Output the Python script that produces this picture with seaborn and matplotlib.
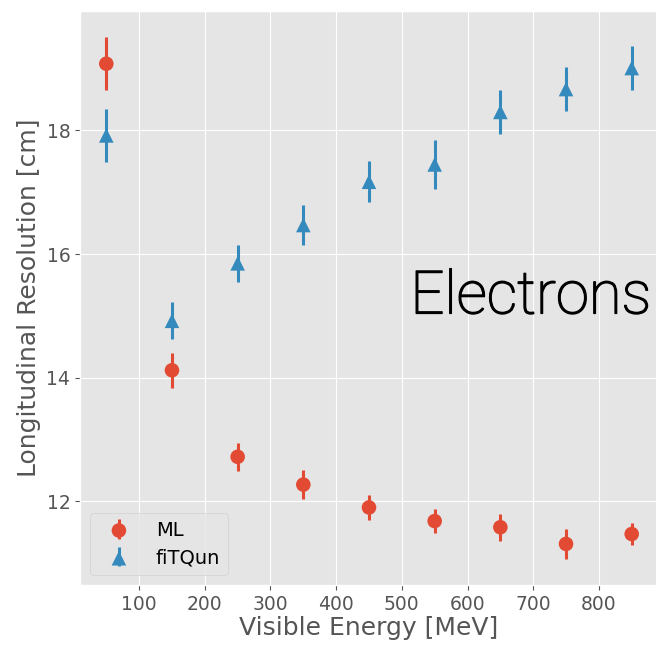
import numpy as np
import pandas as pd
import matplotlib
matplotlib.use('Agg')
import matplotlib.pyplot as plt
import matplotlib.patheffects as pe
import seaborn as sns
from matplotlib.legend_handler import HandlerTuple

energy = [50, 150, 250, 350, 450, 550, 650, 750, 850]

ml_res = [19.08, 14.12, 12.72, 12.27, 11.90, 11.68, 11.58, 11.31, 11.47]
ml_err = [0.43, 0.28, 0.23, 0.23, 0.20, 0.20, 0.22, 0.24, 0.18]

fq_res = [17.92, 14.92, 15.85, 16.47, 17.17, 17.45, 18.30, 18.67, 19.01]
fq_err = [0.43, 0.30, 0.30, 0.33, 0.33, 0.40, 0.35, 0.35, 0.35]

df = pd.DataFrame({
    'energy': energy * 2,
    'res': ml_res + fq_res,
    'err': ml_err + fq_err,
    'algo': ['ML'] * len(energy) + ['fiTQun'] * len(energy),
})

plt.style.use('ggplot')
plt.rcParams['xtick.labelsize'] = 13.5
plt.rcParams['ytick.labelsize'] = 13.5

colors = {'ML': '#E24A33', 'fiTQun': '#348ABD'}
markers = {'ML': 'o', 'fiTQun': '^'}

fig = plt.figure(figsize=(6.56, 6.52), dpi=100)
ax = fig.add_axes([0.122, 0.103, 0.881, 0.880])

handles = []
for algo in ['ML', 'fiTQun']:
    sub = df[df['algo'] == algo]
    eb = ax.errorbar(sub['energy'], sub['res'], yerr=sub['err'], fmt='none',
                     ecolor=colors[algo], elinewidth=2.2, capsize=0)
    sns.scatterplot(data=sub, x='energy', y='res', ax=ax, color=colors[algo],
                    marker=markers[algo], s=110, edgecolor='none', legend=False, zorder=3)
    handles.append((eb, ax.collections[-1]))

ax.legend(handles, ['ML', 'fiTQun'], loc='lower left', fontsize=14,
          labelspacing=0.45, handlelength=2.2,
          handler_map={tuple: HandlerTuple(ndivide=1)})

ax.set_xlabel('Visible Energy [MeV]', fontsize=18, labelpad=2)
ax.set_ylabel('Longitudinal Resolution [cm]', fontsize=18, labelpad=4)

ax.text(513, 15.04, 'Electrons', fontsize=43, color='black',
        family=['Roboto', 'DejaVu Sans'], fontweight='light',
        path_effects=[pe.withStroke(linewidth=1.0, foreground='black')])

fig.savefig('out.png', dpi=100)
